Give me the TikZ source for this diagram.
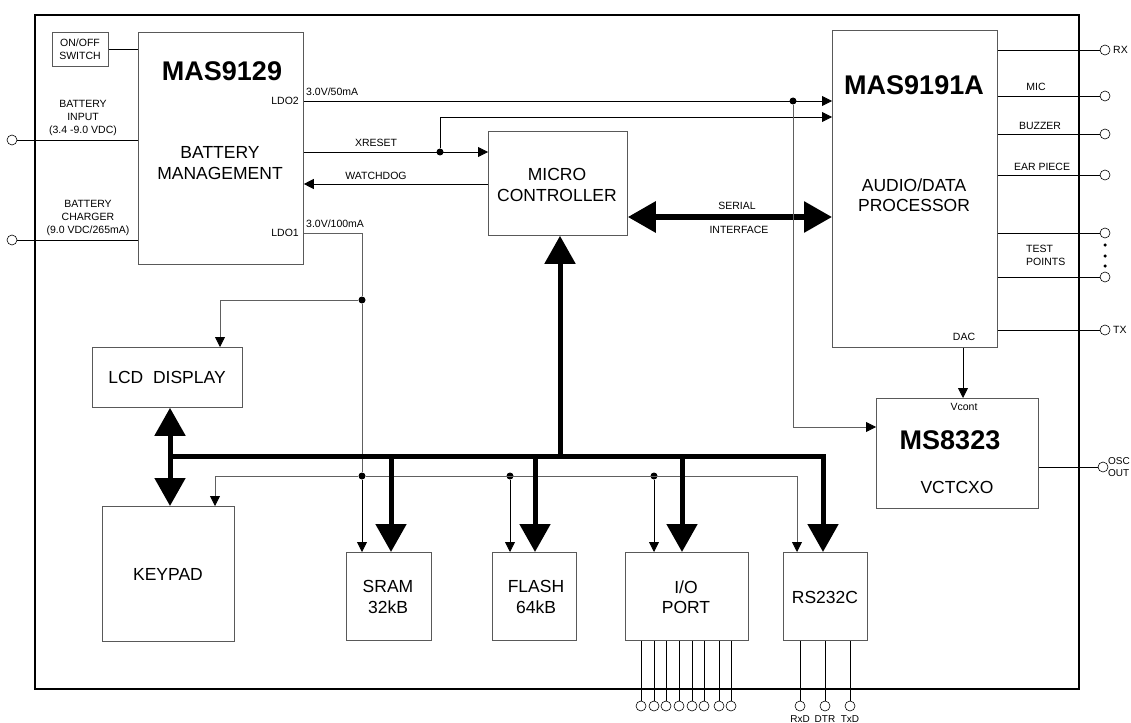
\documentclass[tikz,border=0pt]{standalone}
\usepackage{fontspec}
\setmainfont{Liberation Sans}
\usetikzlibrary{arrows.meta}
\begin{document}
\begin{tikzpicture}[x=1pt,y=-1pt,
  box/.style={draw=gray!70!black, line width=0.8pt, anchor=north west, inner sep=0pt},
  big/.style={font=\fontsize{27}{30}\selectfont\bfseries, inner sep=0pt},
  mid/.style={font=\fontsize{17.5}{20.5}\selectfont, align=center, inner sep=0pt},
  sm/.style={font=\fontsize{10.5}{13}\selectfont, align=center, inner sep=0pt},
  tiny/.style={font=\fontsize{10}{11}\selectfont, inner sep=0pt},
  wire/.style={line width=0.8pt},
  gwire/.style={line width=0.8pt, draw=gray!75!black},
  ar/.style={-{Triangle[length=10pt,width=10pt,color=black]}},
  bus/.style={line width=5pt, line join=miter},
  bar/.style={-{Triangle[length=28pt,width=30pt]}},
  barr/.style={{Triangle[length=28pt,width=30pt]}-{Triangle[length=28pt,width=30pt]}},
  dot/.style={circle, fill, inner sep=0pt, minimum size=7pt},
  tdot/.style={circle, fill, inner sep=0pt, minimum size=3.5pt},
  pin/.style={circle, draw, inner sep=0pt, minimum size=10pt, line width=0.6pt},
]
\useasboundingbox (0,0) rectangle (1131,722);
% frame
\node[draw, line width=2pt, anchor=north west, minimum width=1044pt, minimum height=674pt, inner sep=0pt] (frame) at (34,14) {};

% boxes
\node[box, minimum width=56pt, minimum height=34pt] (sw) at (52,32) {};
\node[box, minimum width=165pt, minimum height=232pt] (bm) at (138,32) {};
\node[box, minimum width=139pt, minimum height=104pt] (mc) at (488,131) {};
\node[box, minimum width=165pt, minimum height=317pt] (ap) at (832,30) {};
\node[box, minimum width=162pt, minimum height=110pt] (vc) at (876,398) {};
\node[box, minimum width=150pt, minimum height=60pt] (lcd) at (92,347) {};
\node[box, minimum width=132pt, minimum height=135pt] (kp) at (102,506) {};
\node[box, minimum width=85pt, minimum height=88pt] (sram) at (346,552) {};
\node[box, minimum width=84pt, minimum height=88pt] (flash) at (492,552) {};
\node[box, minimum width=123pt, minimum height=88pt] (io) at (625,552) {};
\node[box, minimum width=84pt, minimum height=88pt] (rs) at (783,552) {};

% box texts
\node[sm] (swt) at (80,49) {ON/OFF\\SWITCH};
\node[big] (bmt) at (222,71) {MAS9129};
\node[mid] (bmt2) at (220,163) {BATTERY\\MANAGEMENT};
\node[sm, anchor=east] (ldo2) at (299,101) {LDO2};
\node[sm, anchor=east] (ldo1) at (299,233) {LDO1};
\node[mid] (mct) at (557,185) {MICRO\\CONTROLLER};
\node[big] (apt) at (914,85) {MAS9191A};
\node[mid] (apt2) at (914,195) {AUDIO/DATA\\PROCESSOR};
\node[sm] (dac) at (964,337) {DAC};
\node[sm] (vcont) at (964,407) {Vcont};
\node[big] (vct) at (950,440) {MS8323};
\node[mid] (vct2) at (957,487) {VCTCXO};
\node[mid] (lcdt) at (167,377) {LCD\ \ DISPLAY};
\node[mid] (kpt) at (168,574) {KEYPAD};
\node[mid] (sramt) at (388,597) {SRAM\\32kB};
\node[mid] (flasht) at (536,597) {FLASH\\64kB};
\node[mid] (iot) at (686,597) {I/O\\PORT};
\node[mid] (rst) at (825,597) {RS232C};

% left inputs
\draw[wire] (sw.east) -- (bm.west |- sw.east);
\node[pin] (bin) at (12,140) {};
\node[pin] (bch) at (12,240) {};
\draw[wire] (bin.east) -- (bm.west |- bin.east);
\draw[wire] (bch.east) -- (bm.west |- bch.east);
\node[sm, anchor=south] (binl) at (83,136) {BATTERY\\INPUT\\(3.4 -9.0 VDC)};
\node[sm, anchor=south] (bchl) at (88,236) {BATTERY\\CHARGER\\(9.0 VDC/265mA)};

% LDO2 supply
\node[dot] (d1) at (793,101) {};
\draw[wire, ar] (bm.east |- d1) -- (ap.west |- d1);
\node[sm, anchor=south west] (l50) at (306,96) {3.0V/50mA};
% XRESET
\node[dot] (d2) at (440,152) {};
\draw[wire, ar] (bm.east |- d2) -- (mc.west |- d2);
\node[sm] (xr) at (376,143) {XRESET};
\draw[wire, ar] (d2) -- (440,117) -- (ap.west |- 0,117);
% WATCHDOG
\draw[wire, ar] (mc.west |- 0,184) -- (bm.east |- 0,184);
\node[sm] (wd) at (376,176) {WATCHDOG};
% serial
\draw[line width=6pt, barr] (mc.east |- 0,217) -- (ap.west |- 0,217);
\node[sm] (ser) at (737,206) {SERIAL};
\node[sm] (inf) at (739,230) {INTERFACE};
% gray line to VCTCXO
\draw[gwire, ar] (d1) -- (793,427) -- (vc.west |- 0,427);
% DAC
\draw[wire, ar] (ap.south -| 963,0) -- (vc.north -| 963,0);

% LDO1 supply
\node[sm, anchor=west] (l100) at (306,224) {3.0V/100mA};
\node[dot] (d3) at (362,300) {};
\node[dot] (d4) at (362,476) {};
\node[dot] (d5) at (510,476) {};
\node[dot] (d6) at (654,476) {};
\draw[gwire] (bm.east |- ldo1) -- (362,233) -- (d3) -- (d4);
\draw[wire, ar] (d4) -- (sram.north -| d4);
\draw[gwire, ar] (d3) -- (220,300) -- (lcd.north -| 220,0);
\draw[gwire, ar] (d4) -- (215,476) -- (kp.north -| 215,0);
\draw[gwire, ar] (d4) -- (797,476) -- (rs.north -| 797,0);
\draw[wire, ar] (d5) -- (flash.north -| d5);
\draw[wire, ar] (d6) -- (io.north -| d6);

% bus
\draw[bus, barr] (lcd.south -| 170,0) -- (kp.north -| 170,0);
\draw[bus, bar] (170,456) -- (823,456) -- (rs.north -| 823,0);
\draw[bus, bar] (560,456) -- (mc.south -| 560,0);
\draw[bus, bar] (391,456) -- (sram.north -| 391,0);
\draw[bus, bar] (535,456) -- (flash.north -| 535,0);
\draw[bus, bar] (682,456) -- (io.north -| 682,0);

% right outputs
\node[pin] (rx) at (1105,50) {};
\node[pin] (mic) at (1105,96) {};
\node[pin] (buz) at (1105,134) {};
\node[pin] (ear) at (1105,175) {};
\node[pin] (tp1) at (1105,233) {};
\node[pin] (tp2) at (1105,277) {};
\node[pin] (tx) at (1105,330) {};
\foreach \p in {rx,mic,buz,ear,tp1,tp2,tx} \draw[wire] (ap.east |- \p) -- (\p.west);
\node[sm, anchor=west] (rxl) at (1113,50) {RX};
\node[sm, anchor=west] (txl) at (1113,330) {TX};
\node[sm] (micl) at (1036,87) {MIC};
\node[sm] (buzl) at (1040,126) {BUZZER};
\node[sm] (earl) at (1042,167) {EAR PIECE};
\node[sm, align=left, anchor=north west] (tpl) at (1026,245) {TEST\\POINTS};
\node[tdot] (td1) at (1105,245) {};
\node[tdot] (td2) at (1105,256) {};
\node[tdot] (td3) at (1105,266) {};
% OSC OUT
\node[pin] (osc) at (1103,467) {};
\draw[wire] (vc.east |- osc) -- (osc.west);
\node[tiny, anchor=west] (oscl) at (1108,461) {OSC};
\node[tiny, anchor=west] (outl) at (1108,473) {OUT};

% I/O port pins
\foreach \x [count=\i] in {641,654,666,679,692,704,719,731} {
  \node[pin] (p\i) at (\x,706) {};
  \draw[wire] (io.south -| p\i) -- (p\i.north);
}
% RS232C pins
\node[pin] (rxd) at (800,706) {};
\node[pin] (dtr) at (825,706) {};
\node[pin] (txd) at (850,706) {};
\foreach \p in {rxd,dtr,txd} \draw[wire] (rs.south -| \p) -- (\p.north);
\node[tiny, anchor=north] at (800,715) {RxD};
\node[tiny, anchor=north] at (825,715) {DTR};
\node[tiny, anchor=north] at (850,715) {TxD};
\end{tikzpicture}
\end{document}
